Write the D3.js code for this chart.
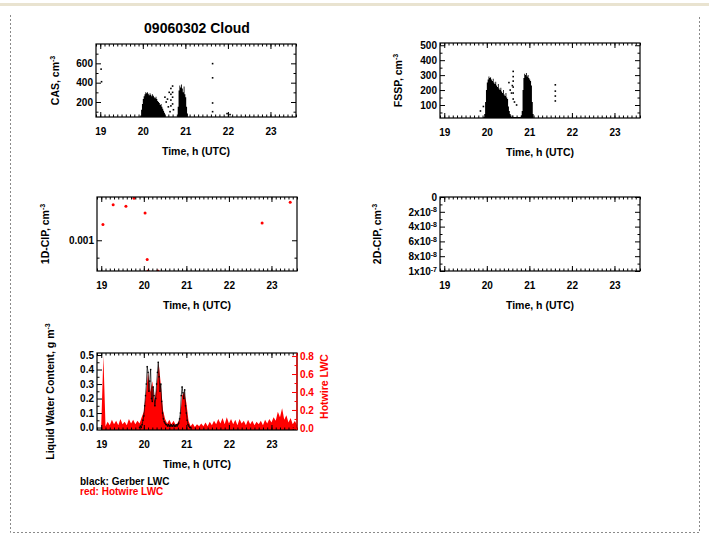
<!DOCTYPE html>
<html lang="en">
<head>
<meta charset="UTF-8">
<title>09060302 Cloud</title>
<style>
  body { margin: 0; background: #fff; }
  svg { display: block; font-family: "Liberation Sans", Arial, sans-serif; font-weight: bold; }
  .tick text { font-size: 10px; font-family: "Liberation Sans", Arial, sans-serif; }
</style>
<script src="https://d3js.org/d3.v7.min.js"></script>
</head>
<body>
<svg id="chart" width="709" height="537"></svg>
<script>
// ---------------- data ----------------
const hourTicks = [19, 20, 21, 22, 23];

// dense probe data, binned (bin start 19.90 h, 0.02 h per bin), max value per bin
const binStart = 19.90, binStep = 0.02;
const casBinMax = [0, 0, 60, 120, 180, 230, 260, 280, 300, 290,
  300, 285, 270, 290, 275, 260, 280, 265, 250, 240,
  255, 230, 210, 200, 190, 170, 180, 150, 130, 110,
  90, 70, 0, 0, 0, 0, 0, 0, 0, 0,
  0, 0, 0, 0, 0, 0, 150, 320, 370, 350,
  380, 340, 300, 360, 280, 250, 150, 80, 0, 0, 0];
const fsspBinMax = [10, 20, 40, 120, 200, 250, 270, 290, 280, 285,
  270, 260, 275, 250, 240, 255, 230, 220, 240, 210,
  200, 215, 190, 180, 200, 170, 160, 180, 150, 140,
  90, 60, 40, 30, 20, 30, 20, 20, 20, 20,
  20, 20, 20, 20, 20, 30, 60, 200, 280, 310,
  300, 315, 290, 300, 280, 270, 260, 230, 120, 40, 20];
const gerberLwc = [0, 0.01, 0, 0.02, 0.05, 0.08, 0.15, 0.22, 0.30, 0.42,
  0.38, 0.25, 0.32, 0.40, 0.20, 0.18, 0.28, 0.22, 0.15, 0.20,
  0.30, 0.38, 0.45, 0.35, 0.25, 0.30, 0.18, 0.10, 0.06, 0.04,
  0.03, 0.02, 0.02, 0.01, 0.02, 0.01, 0.01, 0.02, 0.01, 0.01,
  0.02, 0.01, 0.01, 0.02, 0.01, 0.02, 0.03, 0.06, 0.10, 0.22,
  0.28, 0.24, 0.20, 0.26, 0.15, 0.10, 0.05, 0.02, 0.01, 0, 0];

// isolated samples
const casPtT = [19.02, 19.03, 20.52, 20.55, 20.58, 20.60, 20.62, 20.64, 20.66, 20.66, 20.66, 20.66,
  20.70, 20.70, 20.70, 20.70, 20.72, 21.64, 21.64, 21.64, 21.64, 21.98, 22.05];
const casPtV = [540, 410, 250, 200, 230, 150, 300, 100, 340, 280, 220, 160,
  365, 300, 250, 180, 120, 597, 450, 190, 100, 80, 70];
const fsspPtT = [19.85, 19.92, 20.52, 20.55, 20.58, 20.60, 20.62, 20.62, 20.62, 20.62, 20.62, 20.62,
  20.65, 20.70, 21.61, 21.61, 21.61, 21.61];
const fsspPtV = [60, 90, 250, 200, 180, 230, 325, 290, 260, 220, 180, 140,
  120, 100, 235, 193, 160, 127];
const cipT = [19.04, 19.28, 19.58, 19.77, 20.03, 20.08, 20.10, 20.33, 22.78, 23.44];
const cipV = [0.00110, 0.00124, 0.00123, 0.00129, 0.00118, 0.00089, 0.00083, 0.00083, 0.00111, 0.00126];

// hotwire LWC, 0.05 h samples from 19.00 h
const lwcStart = 19.0, lwcStep = 0.05;
const hotwireLwc = [0.03, 0.80, 0.02, 0.07, 0.03, 0.09, 0.04, 0.08, 0.03, 0.10,
  0.04, 0.07, 0.03, 0.10, 0.05, 0.09, 0.04, 0.08, 0.05, 0.12,
  0.18, 0.38, 0.62, 0.40, 0.52, 0.30, 0.45, 0.72, 0.48, 0.20,
  0.10, 0.05, 0.09, 0.04, 0.08, 0.03, 0.06, 0.10, 0.36, 0.40,
  0.28, 0.08, 0.02, 0.05, 0.01, 0.04, 0.02, 0.05, 0.02, 0.06,
  0.02, 0.07, 0.03, 0.08, 0.04, 0.10, 0.05, 0.11, 0.04, 0.12,
  0.05, 0.10, 0.04, 0.09, 0.03, 0.10, 0.05, 0.08, 0.03, 0.09,
  0.04, 0.08, 0.03, 0.07, 0.04, 0.08, 0.03, 0.09, 0.05, 0.10,
  0.06, 0.12, 0.08, 0.18, 0.12, 0.22, 0.09, 0.14, 0.06, 0.11,
  0.04, 0.08, 0.03];

const cip2Ticks = [0, 2e-8, 4e-8, 6e-8, 8e-8, 1e-7];
const cip2Mant = ["0", "2x10", "4x10", "6x10", "8x10", "1x10"];
const cip2Exp = ["", "-8", "-8", "-8", "-8", "-7"];

// ---------------- drawing ----------------
const svg = d3.select("#chart");
const xDomain = [18.9, 23.6];
const minorHours = d3.range(189, 237).map(d => d / 10);

// page frame
svg.append("rect").attr("x", 0).attr("y", 3).attr("width", 709).attr("height", 3).attr("fill", "#e9e3d0");
svg.append("path")
  .attr("d", "M10.5,15V532.5H699.5V15")
  .attr("fill", "none").attr("stroke", "#8a8a8a").attr("stroke-dasharray", "2,2");

svg.append("text").attr("x", 197).attr("y", 33).attr("text-anchor", "middle")
  .attr("font-size", 14).text("09060302 Cloud");

let clipId = 0;
function panel(p, y, yMajor, yMinor, fmt, opts = {}) {
  const x = d3.scaleLinear().domain(xDomain).range([p.l, p.r]);
  const g = svg.append("g");
  const id = "clip" + (clipId++);
  g.append("clipPath").attr("id", id).append("rect")
    .attr("x", p.l).attr("y", p.t).attr("width", p.r - p.l).attr("height", p.b - p.t);
  const plot = g.append("g").attr("clip-path", `url(#${id})`);

  const noDomain = s => s.select(".domain").remove();
  // x axes (bottom with labels, top mirrored)
  g.append("g").attr("transform", `translate(0,${p.b})`)
    .call(d3.axisBottom(x).tickValues(hourTicks).tickSize(-5).tickPadding(11).tickFormat(d3.format("d"))).call(noDomain);
  g.append("g").attr("transform", `translate(0,${p.b})`)
    .call(d3.axisBottom(x).tickValues(minorHours).tickSize(-2.5).tickFormat("")).call(noDomain);
  g.append("g").attr("transform", `translate(0,${p.t})`)
    .call(d3.axisTop(x).tickValues(hourTicks).tickSize(-5).tickFormat("")).call(noDomain);
  g.append("g").attr("transform", `translate(0,${p.t})`)
    .call(d3.axisTop(x).tickValues(minorHours).tickSize(-2.5).tickFormat("")).call(noDomain);

  // y axes
  const left = g.append("g").attr("transform", `translate(${p.l},0)`)
    .call(d3.axisLeft(y).tickValues(yMajor).tickSize(-5).tickPadding(3).tickFormat(fmt)).call(noDomain);
  g.append("g").attr("transform", `translate(${p.l},0)`)
    .call(d3.axisLeft(y).tickValues(yMinor).tickSize(-2.5).tickFormat("")).call(noDomain);
  if (!opts.noRight) {
    g.append("g").attr("transform", `translate(${p.r},0)`)
      .call(d3.axisRight(y).tickValues(yMajor).tickSize(-5).tickFormat("")).call(noDomain);
    g.append("g").attr("transform", `translate(${p.r},0)`)
      .call(d3.axisRight(y).tickValues(yMinor).tickSize(-2.5).tickFormat("")).call(noDomain);
  }
  g.selectAll(".tick line").attr("stroke", "#000");
  g.selectAll(".tick text").attr("fill", "#000");

  g.append("rect").attr("x", p.l).attr("y", p.t).attr("width", p.r - p.l).attr("height", p.b - p.t)
    .attr("fill", "none").attr("stroke", "#000").attr("stroke-width", 1.2);

  g.append("text").attr("x", (p.l + p.r) / 2).attr("y", p.b + 38).attr("text-anchor", "middle")
    .attr("font-size", 10.5).text("Time, h (UTC)");

  const yt = g.append("text").attr("transform", `translate(${opts.titleX},${(p.t + p.b) / 2}) rotate(-90)`)
    .attr("text-anchor", "middle").attr("font-size", 10.5);
  yt.append("tspan").text(opts.title);
  yt.append("tspan").attr("dy", -4).attr("font-size", 7).text("-3");

  return { x, g, plot, left };
}

// dense bins drawn as a stepped envelope down to the axis
function binArea(plot, x, y, values, floor, bottom) {
  const area = d3.area()
    .curve(d3.curveStepAfter)
    .x((d, i) => x(binStart + i * binStep))
    .y0(bottom)
    .y1(d => y(Math.max(d, floor)));
  plot.append("path").datum(values).attr("d", area).attr("fill", "#000");
}

// CAS
{
  const p = { l: 96, r: 296, t: 44, b: 117 };
  const y = d3.scaleLinear().domain([45, 800]).range([p.b, p.t]);
  const { x, plot } = panel(p, y, [200, 400, 600], [100, 300, 500, 700], d3.format("d"),
    { title: "CAS, cm", titleX: 59 });
  binArea(plot, x, y, casBinMax, 45, p.b);
  plot.selectAll("rect.pt").data(casPtT).join("rect")
    .attr("x", d => x(d) - 0.8).attr("y", (d, i) => y(casPtV[i]) - 0.8)
    .attr("width", 1.6).attr("height", 1.6).attr("fill", "#000");
}

// FSSP
{
  const p = { l: 440, r: 640, t: 43, b: 118 };
  const y = d3.scaleLinear().domain([13, 515]).range([p.b, p.t]);
  const { x, plot } = panel(p, y, [100, 200, 300, 400, 500], [50, 150, 250, 350, 450], d3.format("d"),
    { title: "FSSP, cm", titleX: 402 });
  binArea(plot, x, y, fsspBinMax, 13, p.b);
  plot.selectAll("rect.pt").data(fsspPtT).join("rect")
    .attr("x", d => x(d) - 0.8).attr("y", (d, i) => y(fsspPtV[i]) - 0.8)
    .attr("width", 1.6).attr("height", 1.6).attr("fill", "#000");
}

// 1D-CIP
{
  const p = { l: 97, r: 297, t: 197, b: 271 };
  const y = d3.scaleLog().domain([0.00083, 0.0013]).range([p.b, p.t]);
  const { x, plot } = panel(p, y, [0.001], [0.0009], () => "0.001",
    { title: "1D-CIP, cm", titleX: 49 });
  plot.selectAll("circle").data(cipT).join("circle")
    .attr("cx", d => x(d)).attr("cy", (d, i) => y(cipV[i]))
    .attr("r", 1.5).attr("fill", "#ff0000");
}

// 2D-CIP (no data)
{
  const p = { l: 440, r: 640, t: 197, b: 271 };
  const y = d3.scaleLinear().domain([0, 1e-7]).range([p.t, p.b]);
  const { left } = panel(p, y, cip2Ticks, [1e-8, 3e-8, 5e-8, 7e-8, 9e-8], () => "",
    { title: "2D-CIP, cm", titleX: 381 });
  left.selectAll(".tick text").each(function (d, i) {
    const t = d3.select(this);
    t.append("tspan").text(cip2Mant[i]);
    if (cip2Exp[i]) t.append("tspan").attr("dy", "-0.45em").attr("font-size", 7).text(cip2Exp[i]);
  });
}

// LWC
{
  const p = { l: 97, r: 297, t: 353, b: 430 };
  const y = d3.scaleLinear().domain([-0.017, 0.514]).range([p.b, p.t]);
  const yR = d3.scaleLinear().domain([-0.023, 0.834]).range([p.b, p.t]);
  const { x, g, plot } = panel(p, y, [0, 0.1, 0.2, 0.3, 0.4, 0.5], [0.05, 0.15, 0.25, 0.35, 0.45], d3.format(".1f"),
    { title: "Liquid Water Content, g m", titleX: 54, noRight: true });

  const area = d3.area()
    .x((d, i) => x(lwcStart + i * lwcStep))
    .y0(p.b).y1(d => yR(d));
  plot.append("path").datum(hotwireLwc).attr("d", area).attr("fill", "#ff0000");

  const line = d3.line().x((d, i) => x(binStart + i * binStep)).y(d => y(d));
  plot.append("path").datum(gerberLwc).attr("d", line)
    .attr("fill", "none").attr("stroke", "#000").attr("stroke-width", 0.7);
  plot.selectAll("rect.g").data(gerberLwc).join("rect")
    .attr("x", (d, i) => x(binStart + i * binStep) - 0.7).attr("y", d => y(d) - 0.7)
    .attr("width", 1.4).attr("height", 1.4).attr("fill", "#000");

  // red right axis
  const right = g.append("g").attr("transform", `translate(${p.r},0)`)
    .call(d3.axisRight(yR).tickValues([0, 0.2, 0.4, 0.6, 0.8]).tickSize(-5).tickPadding(3).tickFormat(d3.format(".1f")));
  const rightMinor = g.append("g").attr("transform", `translate(${p.r},0)`)
    .call(d3.axisRight(yR).tickValues([0.1, 0.3, 0.5, 0.7]).tickSize(-2.5).tickFormat(""));
  right.select(".domain").remove();
  rightMinor.select(".domain").remove();
  right.selectAll(".tick line").attr("stroke", "#ff0000");
  rightMinor.selectAll(".tick line").attr("stroke", "#ff0000");
  right.selectAll(".tick text").attr("fill", "#ff0000");
  g.append("line").attr("x1", p.r).attr("x2", p.r).attr("y1", p.t).attr("y2", p.b)
    .attr("stroke", "#ff0000").attr("stroke-width", 1.2);
  g.append("text").attr("transform", `translate(328,${(p.t + p.b) / 2 - 5}) rotate(-90)`)
    .attr("text-anchor", "middle").attr("font-size", 10.5).attr("fill", "#ff0000").text("Hotwire LWC");
}

// legend text
svg.append("text").attr("x", 80).attr("y", 485).attr("font-size", 10).text("black: Gerber LWC");
svg.append("text").attr("x", 80).attr("y", 495).attr("font-size", 10).attr("fill", "#ff0000").text("red: Hotwire LWC");
</script>
</body>
</html>
